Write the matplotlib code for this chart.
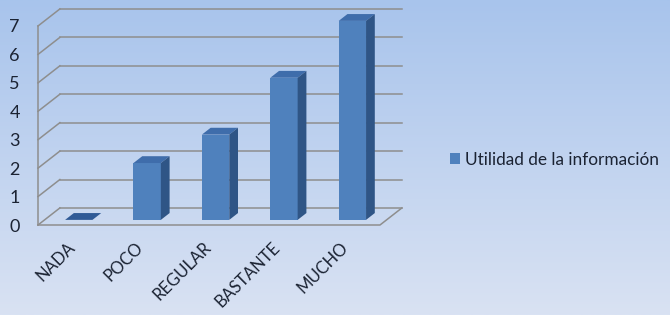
import numpy as np
import matplotlib
matplotlib.use("Agg")
import matplotlib.pyplot as plt
from matplotlib.patches import Polygon
from matplotlib.colors import LinearSegmentedColormap

plt.rcParams['font.family'] = ['Lato', 'DejaVu Sans']

categorias = ['NADA', 'POCO', 'REGULAR', 'BASTANTE', 'MUCHO']
valores = [0, 2, 3, 5, 7]
serie = 'Utilidad de la información'
yticks = list(range(0, 8))

# look of the fake 3d box (data units)
ddx, ddy = 0.32, 0.6      # depth of the floor
d0, d1 = 0.30, 0.70       # bars sit between these depth fractions
half_w = 0.2
c_front = '#4f81bd'
c_top = '#3f6dab'
c_side = '#2f5586'
c_grid = '#8e8e8e'
c_text = '#1b2333'

fig = plt.figure(figsize=(6.7, 3.15), dpi=100)

# gradient background
bg = fig.add_axes([0, 0, 1, 1], zorder=-5)
cmap = LinearSegmentedColormap.from_list('bg', ['#a8c4ec', '#d9e2f3'])
bg.imshow(np.linspace(0, 1, 256).reshape(-1, 1), cmap=cmap, aspect='auto',
          extent=(0, 1, 0, 1))
bg.set_axis_off()

ax = fig.add_axes([38 / 670, 90 / 315, 342 / 670, 199 / 315])
ax.set_facecolor('none')
n = len(categorias)
ax.set_xlim(0, n)
ax.set_ylim(0, max(yticks))

# walls and gridlines
for v in yticks:
    ax.plot([ddx, n + ddx], [v + ddy, v + ddy], color=c_grid, lw=1.1, clip_on=False, zorder=1)
    ax.plot([0, ddx], [v, v + ddy], color=c_grid, lw=1.1, clip_on=False, zorder=1)
ax.plot([0, 0], [0, max(yticks)], color=c_grid, lw=1.1, clip_on=False, zorder=1)
ax.plot([0, n, n + ddx], [0, 0, ddy], color=c_grid, lw=1.1, clip_on=False, zorder=1)

# bars
xs = np.arange(n) + 0.5 + d0 * ddx
yb = d0 * ddy
dd_x = (d1 - d0) * ddx
dd_y = (d1 - d0) * ddy
ax.bar(xs, valores, width=2 * half_w, bottom=yb, color=c_front, label=serie,
       clip_on=False, zorder=3)
for x, v in zip(xs, valores):
    xl, xr, yt = x - half_w, x + half_w, yb + v
    top = Polygon([(xl, yt), (xr, yt), (xr + dd_x, yt + dd_y), (xl + dd_x, yt + dd_y)],
                  closed=True, facecolor=c_top if v > 0 else '#2f5a96',
                  edgecolor='none', clip_on=False, zorder=3)
    ax.add_patch(top)
    if v > 0:
        side = Polygon([(xr, yb), (xr + dd_x, yb + dd_y), (xr + dd_x, yt + dd_y), (xr, yt)],
                       closed=True, facecolor=c_side, edgecolor='none',
                       clip_on=False, zorder=3)
        ax.add_patch(side)

ax.set_yticks(yticks)
ax.set_yticklabels([str(t) for t in yticks], fontsize=13, color=c_text)
ax.set_xticks(np.arange(n) + 0.5)
ax.set_xticklabels(categorias, fontsize=12, color=c_text, rotation=45,
                   ha='right', va='center', rotation_mode='anchor')
ax.tick_params(axis='y', length=0, pad=13)
ax.tick_params(axis='x', length=0, pad=14)
for s in ax.spines.values():
    s.set_visible(False)

fig.legend(loc='center left', bbox_to_anchor=(443 / 670, 1 - 160 / 315),
           frameon=False, fontsize=12.4, handlelength=0.6, handleheight=0.6,
           handletextpad=0.3, borderaxespad=0, labelcolor=c_text)

fig.savefig('out.png', dpi=100)
